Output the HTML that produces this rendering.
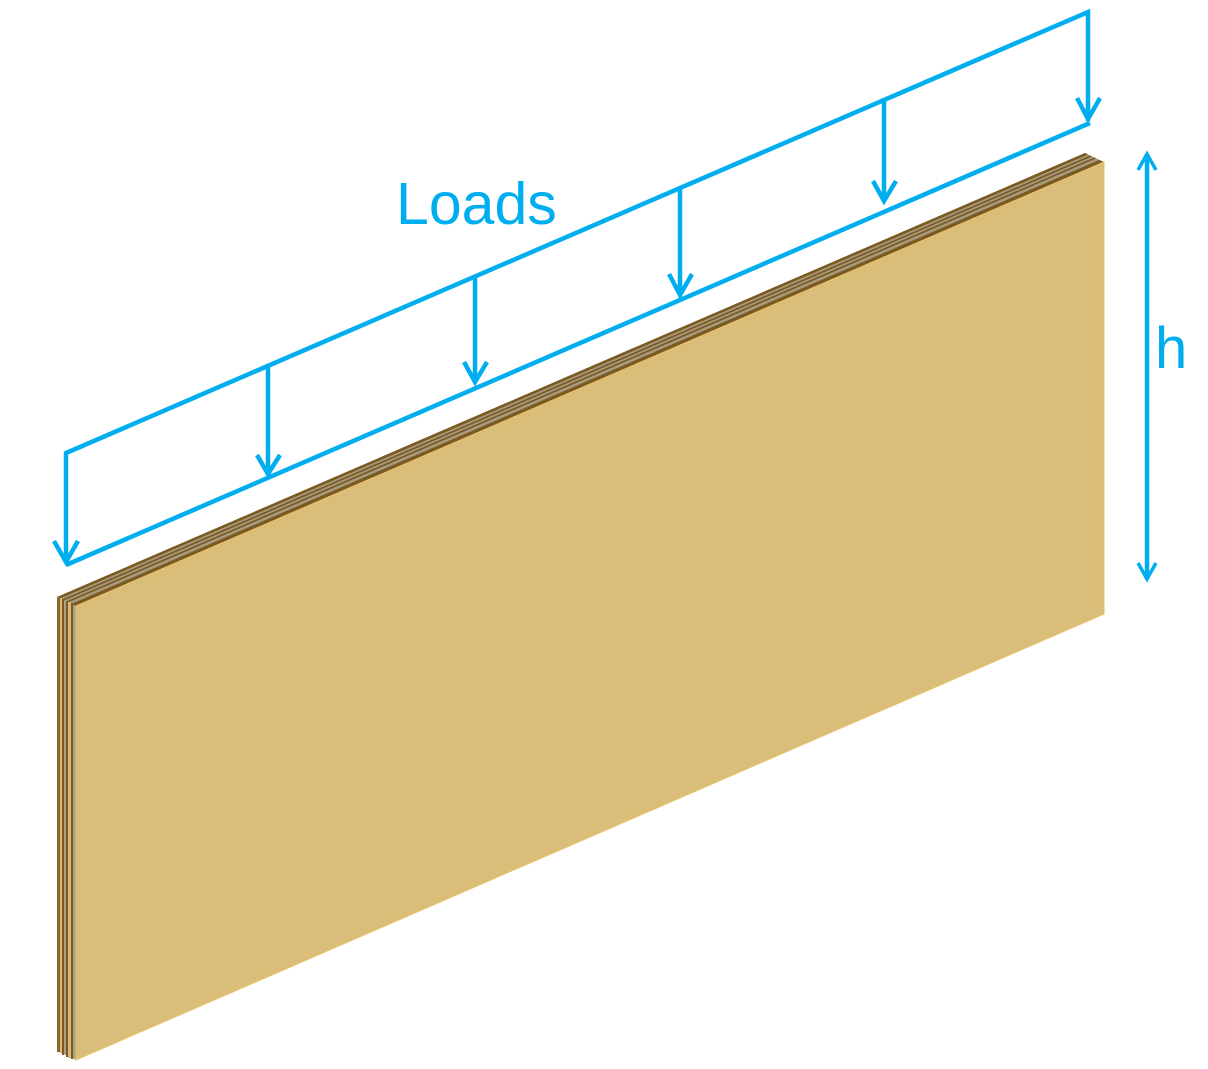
<!DOCTYPE html>
<html><head><style>html,body{margin:0;padding:0;background:#fff;}svg{display:block}</style></head>
<body>
<svg width="1208" height="1069" viewBox="0 0 1208 1069" xmlns="http://www.w3.org/2000/svg">
<!-- panel top -->
<polygon points="57,597 1085,153 1104,162 76,606" fill="#a89a80"/>
<polygon points="57,597 1085,153 1088,154.5 60,598.5" fill="#7a5a20"/>
<polygon points="62,599.5 1090,155.5 1092,156.5 64,600.5" fill="#7a5a20"/>
<polygon points="66,601.5 1094,157.5 1096,158.5 68,602.5" fill="#7a5a20"/>
<polygon points="71,604 1099,160 1104,162 76,606" fill="#7a5a20"/>
<!-- edge -->
<polygon points="57,597 76,606 76,1060 57,1051" fill="#a8a08a"/>
<rect x="57" y="597" width="3" height="455" fill="#8a6a2a"/>
<rect x="60" y="598" width="2" height="455" fill="#d8b870"/>
<rect x="62" y="599" width="2" height="456" fill="#7a5a20"/>
<rect x="66" y="601" width="2" height="456" fill="#7a5a20"/>
<rect x="68" y="602" width="3" height="456" fill="#d8b870"/>
<rect x="71" y="603" width="2" height="456" fill="#7a5a20"/>
<!-- front -->
<polygon points="76,606 1104,162 1104,614 76,1060" fill="#dbbd7a" stroke="#e8c46a" stroke-width="1"/>
<!-- loads -->
<g stroke="#00aeef" stroke-width="4.5" fill="none" stroke-linejoin="miter">
<polyline points="66,563 66,453 1088,12 1088,121"/>
<line x1="66" y1="565" x2="1090" y2="123"/>
<line x1="268" y1="365" x2="268" y2="474"/>
<line x1="475" y1="275" x2="475" y2="382"/>
<line x1="680" y1="186" x2="680" y2="295"/>
<line x1="884" y1="98" x2="884" y2="201"/>
<polyline points="54,541 66,562 78,541"/>
<polyline points="257,455 268,474 280,455"/>
<polyline points="464,362 475,382 487,362"/>
<polyline points="669,274 680,295 692,274"/>
<polyline points="873,181 884,201 896,181"/>
<polyline points="1077,98 1088,119 1100,98"/>
<line x1="1147" y1="155" x2="1147" y2="578"/>
<polyline points="1138,170 1147,154 1156,170" stroke-width="3.5"/>
<polyline points="1138,563 1147,579 1156,563" stroke-width="3.5"/>
</g>
<text x="396" y="224" font-family="Liberation Sans, sans-serif" font-size="59" fill="#00aeef">Loads</text>
<text x="1155" y="368" font-family="Liberation Sans, sans-serif" font-size="58" fill="#00aeef">h</text>
</svg>
</body></html>
